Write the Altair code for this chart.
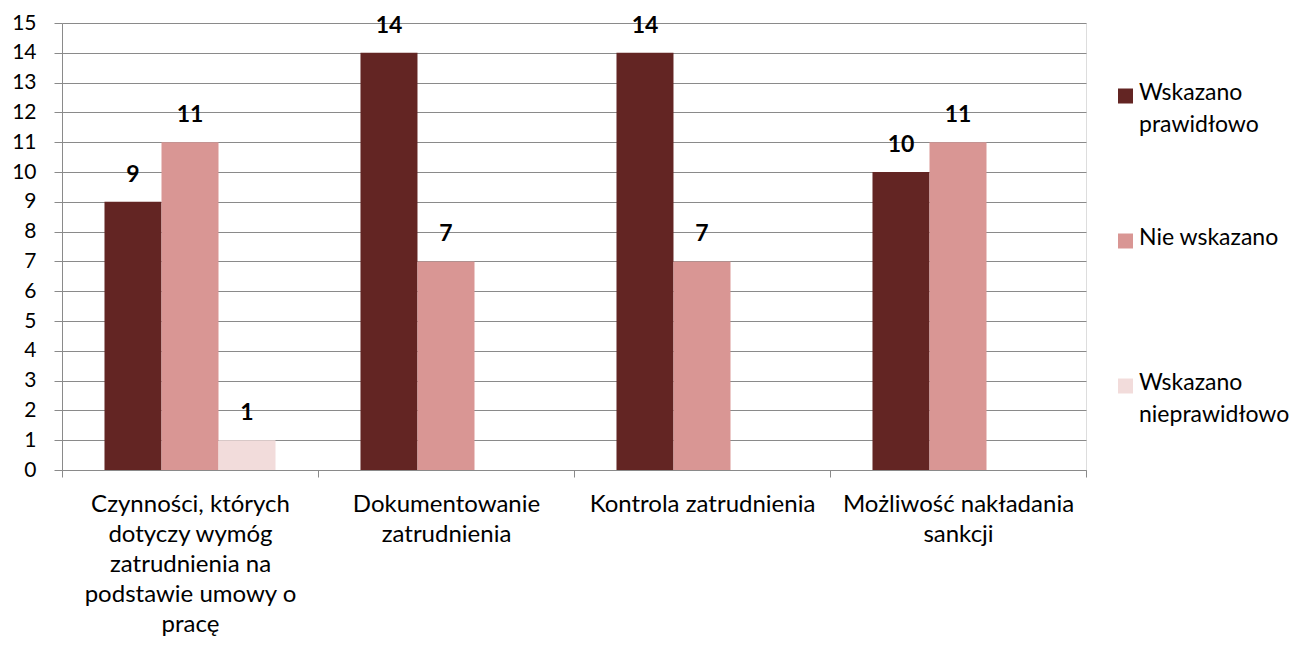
import altair as alt
import pandas as pd

categories = [
    "Czynności, których|dotyczy wymóg|zatrudnienia na|podstawie umowy o|pracę",
    "Dokumentowanie|zatrudnienia",
    "Kontrola zatrudnienia",
    "Możliwość nakładania|sankcji",
]
series = ["Wskazano|prawidłowo", "Nie wskazano", "Wskazano|nieprawidłowo"]
colors = ["#632523", "#D99694", "#F2DCDB"]

prawidlowo = [9, 14, 14, 10]
nie_wskazano = [11, 7, 7, 11]
nieprawidlowo = [1, None, None, None]
y_ticks = list(range(0, 16))

rows = []
for i, c in enumerate(categories):
    for s, vals in zip(series, [prawidlowo, nie_wskazano, nieprawidlowo]):
        if vals[i] is not None:
            rows.append({"cat": c, "series": s, "value": vals[i]})
df = pd.DataFrame(rows)
legend_df = pd.DataFrame({"series": series})

FONT = "Lato"
GRID = "#8A8A8A"

x = alt.X(
    "cat:N",
    sort=categories,
    scale=alt.Scale(paddingInner=0, paddingOuter=0),
    axis=alt.Axis(
        title=None,
        labelAngle=0,
        labelExpr="split(datum.label, '|')",
        labelFontSize=24,
        labelFont=FONT,
        labelColor="#000000",
        labelLineHeight=30,
        labelPadding=15,
        labelLimit=400,
        tickBand="extent",
        tickSize=7,
        tickColor=GRID,
        domainColor=GRID,
        grid=False,
    ),
)
xoff = alt.XOffset(
    "series:N",
    sort=series,
    scale=alt.Scale(domain=series, paddingInner=0, paddingOuter=0.745),
)
y = alt.Y(
    "value:Q",
    scale=alt.Scale(domain=[0, 15], nice=False, zero=True),
    axis=alt.Axis(
        title=None,
        values=y_ticks,
        labelOverlap=False,
        labelFontSize=21,
        labelFont=FONT,
        labelColor="#000000",
        tickSize=8,
        tickColor=GRID,
        gridColor=GRID,
        gridWidth=1,
        domainColor=GRID,
        labelPadding=18,
    ),
)
color = alt.Color(
    "series:N",
    sort=series,
    scale=alt.Scale(domain=series, range=colors),
    legend=None,
)

bars = alt.Chart(df).mark_bar(size=57).encode(x=x, xOffset=xoff, y=y, color=color)

labels = alt.Chart(df).mark_text(
    fontSize=23, fontWeight="bold", font=FONT, dy=-20, baseline="alphabetic", color="#000000"
).encode(x=x, xOffset=xoff, y=y, text="value:Q")

main = alt.layer(bars, labels)

leg_y = alt.Y(
    "series:N",
    sort=series,
    scale=alt.Scale(type="point", domain=series, range=[73, 363], padding=0),
    axis=None,
)
leg_sq = alt.Chart(legend_df).mark_square(size=225, opacity=1).encode(
    x=alt.value(1063.5), y=leg_y, color=color
)
leg_txt = (
    alt.Chart(legend_df)
    .transform_calculate(lines="split(datum.series, '|')")
    .mark_text(
        align="left", baseline="top", dy=-14, font=FONT, fontSize=23, lineHeight=32, color="#000000"
    )
    .encode(x=alt.value(1077), y=leg_y, text="lines:N")
)
legend = alt.layer(leg_sq, leg_txt)

chart = (
    alt.layer(main, legend)
    .resolve_scale(y="independent")
    .properties(
        width=1024,
        height=447,
        autosize=alt.AutoSizeParams(type="none"),
        padding={"left": 54, "top": 15, "right": 208, "bottom": 170},
    )
    .configure_view(stroke=None, clip=False)
    .configure(background="white")
)

chart.save("out.html", embed_options={"renderer": "svg", "actions": False})
